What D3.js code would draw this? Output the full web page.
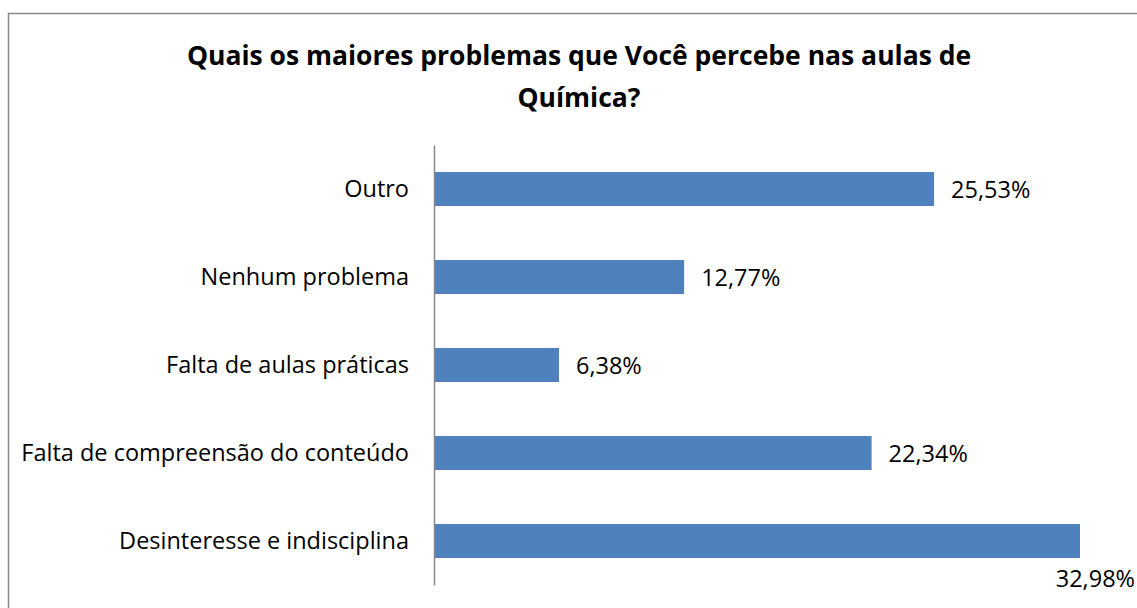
<!DOCTYPE html>
<html><head><meta charset="utf-8">
<script src="https://cdn.jsdelivr.net/npm/d3@7"></script>
<style>body{margin:0;background:#fff}svg{display:block}</style>
</head><body>
<svg id="c" width="1137" height="608"></svg>
<script>
const categories = ["Outro","Nenhum problema","Falta de aulas práticas","Falta de compreensão do conteúdo","Desinteresse e indisciplina"];
const values = [25.53, 12.77, 6.38, 22.34, 32.98];
const valueLabels = ["25,53%","12,77%","6,38%","22,34%","32,98%"];
const titleLines = ["Quais os maiores problemas que Você percebe nas aulas de","Química?"];

const svg = d3.select("#c");
const W = 1137, H = 608;
const font = "'Open Sans', 'Noto Sans', sans-serif";

svg.append("rect").attr("x",8.5).attr("y",13.5).attr("width",1140).attr("height",620)
  .attr("fill","#fff").attr("stroke","#888").attr("stroke-width",1.5);

svg.selectAll("text.title").data(titleLines).enter().append("text")
  .attr("class","title").attr("x",579).attr("y",(d,i)=>55+i*42)
  .attr("text-anchor","middle").attr("dominant-baseline","central")
  .attr("font-family",font).attr("font-weight","bold").attr("font-size",26.5)
  .attr("fill","#000").text(d=>d);

const x0 = 434;
const x = d3.scaleLinear().domain([0,32.98]).range([x0,1080]);
const y = d3.scaleBand().domain(categories).range([145,585]).paddingInner(0.614).paddingOuter(0.307);

svg.selectAll("rect.bar").data(values).enter().append("rect")
  .attr("class","bar").attr("x",x(0)).attr("y",(d,i)=>y(categories[i]))
  .attr("width",d=>x(d)-x(0)).attr("height",y.bandwidth()).attr("fill","#4f81bd");

const axis = svg.append("g").attr("transform",`translate(${x0},0)`)
  .call(d3.axisLeft(y).tickSize(0).tickPadding(25));
axis.select(".domain").attr("stroke","#888").attr("stroke-width",1.5);
axis.selectAll("text").attr("font-family",font).attr("font-size",23.5).attr("fill","#000");

const labels = svg.selectAll("text.val").data(values).enter().append("text")
  .attr("class","val").attr("font-family",font).attr("font-size",23.5).attr("fill","#000")
  .attr("dominant-baseline","central").text((d,i)=>valueLabels[i]);
labels.each(function(d,i){
  const t = d3.select(this);
  const w = this.getComputedTextLength();
  const cy = y(categories[i]) + y.bandwidth()/2;
  let lx = x(d) + 17, ly = cy;
  if (lx + w > W - 10) { lx = W - 2 - w; ly = cy + 37; }
  t.attr("x",lx).attr("y",ly);
});
</script>
</body></html>
